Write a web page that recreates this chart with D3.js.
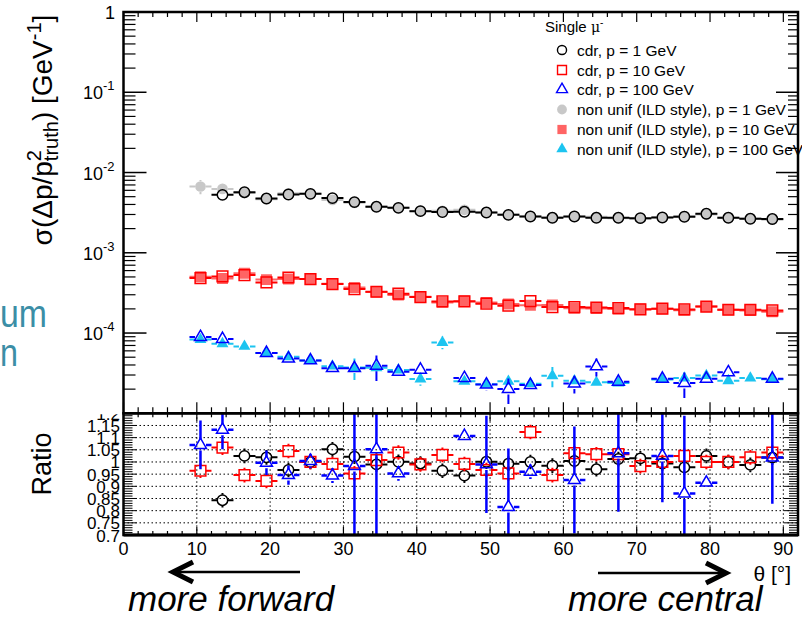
<!DOCTYPE html>
<html><head><meta charset="utf-8">
<script src="https://cdn.jsdelivr.net/npm/d3@7"></script>
<style>
body{margin:0;background:#fff}
svg{display:block}
text{font-family:"Liberation Sans",Arial,Helvetica,sans-serif;fill:#000}
</style>
</head><body>
<svg id="c" width="802" height="621"></svg>
<script>
// ---------------- DATA ----------------
const theta = [10.5,13.5,16.5,19.5,22.5,25.5,28.5,31.5,34.5,37.5,40.5,43.5,46.5,49.5,52.5,55.5,58.5,61.5,64.5,67.5,70.5,73.5,76.5,79.5,82.5,85.5,88.5];
const binHalfWidth = 1.5;

// sigma(dp/p^2) [GeV^-1]
const cdr1  = [null,5.27e-3,5.69e-3,4.74e-3,5.32e-3,5.42e-3,4.80e-3,4.28e-3,3.74e-3,3.63e-3,3.30e-3,3.22e-3,3.24e-3,3.17e-3,2.97e-3,2.83e-3,2.73e-3,2.83e-3,2.73e-3,2.73e-3,2.70e-3,2.75e-3,2.81e-3,3.06e-3,2.73e-3,2.65e-3,2.63e-3];
const nu1   = [6.70e-3,6.25e-3,5.55e-3,4.65e-3,5.50e-3,5.42e-3,4.56e-3,4.19e-3,3.78e-3,3.63e-3,3.32e-3,3.34e-3,3.43e-3,3.17e-3,2.99e-3,2.83e-3,2.77e-3,2.82e-3,2.81e-3,2.70e-3,2.66e-3,2.77e-3,2.87e-3,2.99e-3,2.73e-3,2.68e-3,2.58e-3];
const nu1Err = [0.2,0.02,0.02,0.02,0.02,0.02,0.02,0.02,0.02,0.02,0.02,0.02,0.02,0.02,0.02,0.02,0.02,0.02,0.02,0.02,0.02,0.02,0.02,0.02,0.02,0.02,0.02];

const cdr10 = [4.84e-4,5.07e-4,5.27e-4,4.27e-4,4.92e-4,4.71e-4,4.07e-4,3.53e-4,3.27e-4,3.09e-4,2.81e-4,2.48e-4,2.48e-4,2.32e-4,2.19e-4,2.50e-4,2.11e-4,2.11e-4,2.08e-4,2.05e-4,1.97e-4,2.01e-4,1.97e-4,2.14e-4,1.95e-4,1.95e-4,1.91e-4];
const nu10  = [5.02e-4,4.79e-4,5.57e-4,4.63e-4,4.71e-4,4.71e-4,4.10e-4,3.70e-4,3.24e-4,2.97e-4,2.84e-4,2.41e-4,2.50e-4,2.40e-4,2.30e-4,2.22e-4,2.23e-4,2.04e-4,2.02e-4,1.99e-4,2.00e-4,2.01e-4,1.92e-4,2.14e-4,1.95e-4,1.91e-4,1.84e-4];

const cdr100 = [8.9e-5,8.43e-5,null,5.64e-5,4.80e-5,4.56e-5,3.65e-5,3.65e-5,3.90e-5,3.30e-5,3.49e-5,null,2.75e-5,2.28e-5,2.01e-5,2.25e-5,null,2.35e-5,3.84e-5,2.47e-5,null,2.70e-5,2.39e-5,2.70e-5,3.24e-5,null,2.70e-5];
const cdr100Err = [0.05,0.05,0,0.04,0.04,0.04,0.04,0.05,0.35,0.05,0.05,0,0.06,0.15,0.35,0.06,0,0.25,0.25,0.06,0,0.06,0.35,0.06,0.06,0,0.06];
const nu100  = [8.3e-5,7.37e-5,6.82e-5,5.64e-5,5.07e-5,4.56e-5,3.87e-5,3.71e-5,3.70e-5,3.46e-5,2.68e-5,7.64e-5,2.50e-5,2.30e-5,2.50e-5,2.34e-5,2.94e-5,2.54e-5,2.43e-5,2.38e-5,null,2.63e-5,2.75e-5,2.95e-5,2.55e-5,2.75e-5,2.65e-5];
const nu100Err = [0.05,0.08,0.05,0.04,0.04,0.04,0.04,0.30,0.05,0.05,0.18,0.18,0.05,0.05,0.08,0.05,0.28,0.05,0.05,0.05,0,0.05,0.08,0.05,0.05,0.05,0.05];

// ratio panel
const ratio1   = [null,0.843,1.025,1.019,0.967,1.0,1.052,1.022,0.990,1.001,0.994,0.964,0.944,1.001,0.993,1.0,0.985,1.004,0.970,1.012,1.015,0.994,0.978,1.025,1.0,0.988,1.018];
const ratio10  = [0.964,1.059,0.946,0.922,1.045,1.0,0.992,0.953,1.008,1.039,0.990,1.029,0.992,0.967,0.953,1.123,0.946,1.036,1.032,1.032,0.983,1.0,1.025,1.0,1.0,1.019,1.039];
const ratio100 = [1.070,1.132,null,0.997,0.946,1.004,0.944,0.983,1.052,0.953,null,null,1.107,0.990,0.815,0.960,null,0.926,null,1.036,null,1.025,0.870,0.915,null,null,1.018];
const ratio100Err = [0.10,0.08,0,0.05,0.04,0.03,0.03,0.6,0.6,0.03,0,0,0.012,0.2,0.24,0.03,0,0.22,0,0.24,0,0.19,0.32,0.02,0,0,0.19];
const ratioErr = 0.03;

// ticks / labels
const xTickValues = [0,10,20,30,40,50,60,70,80,90];
const yTopTicks = [1,1e-1,1e-2,1e-3,1e-4];
const yTopExp = [null,"-1","-2","-3","-4"];
const ratioTicks = [0.7,0.75,0.8,0.85,0.9,0.95,1,1.05,1.1,1.15,1.2];
const ratioTickLabels = ["0.7","0.75","0.8","0.85","0.9","0.95","1","1.05","1.1","1.15","1.2"];
const legendLabels = ["cdr, p = 1 GeV","cdr, p = 10 GeV","cdr, p = 100 GeV","non unif (ILD style), p = 1 GeV","non unif (ILD style), p = 10 GeV","non unif (ILD style), p = 100 GeV"];

// ---------------- LAYOUT ----------------
const L = 123.5, R = 798, T = 12, M = 413.3, B = 535;
const x = d3.scaleLinear().domain([0,92]).range([L,R]);
const yT = d3.scaleLog().domain([1e-5,1]).range([M,T]);
const yR = d3.scaleLinear().domain([0.7,1.2]).range([B,M]);

const C = {black:"#000000", grey:"#c8c8c8", red:"#ff0000", salmon:"#ff6464", blue:"#0000ff", cyan:"#1cc4f0", teal:"#3b8ea6"};

const svg = d3.select("#c");
const defs = svg.append("defs");
defs.append("clipPath").attr("id","clipTop").append("rect").attr("x",L).attr("y",T).attr("width",R-L).attr("height",M-T);
defs.append("clipPath").attr("id","clipRat").append("rect").attr("x",L).attr("y",M).attr("width",R-L).attr("height",B-M);
defs.append("clipPath").attr("id","clipRatLab").append("rect").attr("x",0).attr("y",M+1).attr("width",L).attr("height",200);

const gTop = svg.append("g").attr("clip-path","url(#clipTop)");
const gRat = svg.append("g").attr("clip-path","url(#clipRat)");

// ratio grid
const gGrid = gRat.append("g").attr("stroke","#000").attr("stroke-width",1).attr("stroke-dasharray","1.5,2.5");
gGrid.selectAll("line.h").data(ratioTicks.filter(v=>v>0.71&&v<1.19)).join("line")
  .attr("x1",L).attr("x2",R).attr("y1",d=>yR(d)).attr("y2",d=>yR(d));
gGrid.selectAll("line.v").data(xTickValues.filter(v=>v>0)).join("line")
  .attr("x1",d=>x(d)).attr("x2",d=>x(d)).attr("y1",M).attr("y2",B);

// generic series drawing
function series(g, ys, vals, errs, color, lw, type, size, filled, gap){
  const pts = [];
  vals.forEach((v,i)=>{ if(v!=null){ pts.push({t:theta[i], v, e:(typeof errs==="number"?errs:errs[i])}); } });
  const p = d3.path();
  pts.forEach(d=>{
    const cx = x(d.t), cy = ys(d.v);
    const x0 = x(d.t-binHalfWidth), x1 = x(d.t+binHalfWidth);
    if(cx-gap > x0){ p.moveTo(x0,cy); p.lineTo(cx-gap,cy); }
    if(x1 > cx+gap){ p.moveTo(cx+gap,cy); p.lineTo(x1,cy); }
    const isLog = (ys===yT);
    const hi = isLog ? d.v*(1+d.e) : d.v+d.e;
    const lo = isLog ? Math.max(d.v*(1-d.e),1e-9) : d.v-d.e;
    const yh = ys(hi), yl = ys(lo);
    if(yh < cy-gap){ p.moveTo(cx,yh); p.lineTo(cx,cy-gap); }
    if(yl > cy+gap){ p.moveTo(cx,cy+gap); p.lineTo(cx,yl); }
  });
  g.append("path").attr("d",p.toString()).attr("fill","none").attr("stroke",color).attr("stroke-width",lw);
  const sym = d3.symbol().type(type).size(size);
  g.selectAll(null).data(pts).join("path")
    .attr("transform",d=>`translate(${x(d.t)},${ys(d.v)})`)
    .attr("d",sym())
    .attr("fill",filled?color:"none")
    .attr("stroke",filled?"none":color)
    .attr("stroke-width",filled?0:1.5);
}

// top panel: non-uniform first, then cdr (hollow)
series(gTop, yT, nu1, nu1Err, C.grey, 2, d3.symbolCircle, 90, true, 5.5);
series(gTop, yT, nu10, 0.02, C.salmon, 2, d3.symbolSquare, 120, true, 5.5);
series(gTop, yT, nu100, nu100Err, C.cyan, 2, d3.symbolTriangle, 62, true, 5.5);
series(gTop, yT, cdr1, 0.02, C.black, 2, d3.symbolCircle, 85, false, 5.5);
series(gTop, yT, cdr10, 0.02, C.red, 2, d3.symbolSquare, 115, false, 5.5);
series(gTop, yT, cdr100, cdr100Err, C.blue, 2, d3.symbolTriangle, 62, false, 5.5);

// ratio panel
series(gRat, yR, ratio1, ratioErr, C.black, 2, d3.symbolCircle, 85, false, 5.5);
series(gRat, yR, ratio10, ratioErr, C.red, 2, d3.symbolSquare, 115, false, 5.5);
series(gRat, yR, ratio100, ratio100Err, C.blue, 2.5, d3.symbolTriangle, 62, false, 5.5);

// ---------------- AXES / FRAMES ----------------
const gAx = svg.append("g").attr("stroke","#000").attr("fill","none");
function tick(x1,y1,x2,y2,w){ gAx.append("line").attr("x1",x1).attr("y1",y1).attr("x2",x2).attr("y2",y2).attr("stroke-width",w||1.2); }

// top panel log ticks
const logMinor = [];
for(let e=-5;e<0;e++){ for(let k=2;k<=9;k++){ logMinor.push(k*Math.pow(10,e)); } }
yTopTicks.concat([1e-5]).forEach(v=>{ const yy=yT(v); tick(L,yy,L+23,yy,1.5); tick(R,yy,R-22,yy,1.5); });
logMinor.forEach(v=>{ const yy=yT(v); tick(L,yy,L+12,yy,1.2); tick(R,yy,R-10,yy,1.2); });
// x ticks
const xMinor = d3.range(0,93,2);
xMinor.forEach(v=>{
  const xx = x(v), major = (v%10===0);
  tick(xx,T,xx,T+(major?10:5),1.2);
  tick(xx,M,xx,M-(major?11:6),1.2);
  tick(xx,M,xx,M+(major?8:4),1.2);
  tick(xx,B,xx,B-(major?8:4),1.2);
});
// ratio y ticks
d3.range(70,121,1).forEach(k=>{
  const v = k/100, yy = yR(v), major = (k%5===0);
  tick(L,yy,L+(major?13:9),yy,1);
  tick(R,yy,R-(major?13:9),yy,1);
});
// frames
svg.append("rect").attr("x",L).attr("y",T).attr("width",R-L).attr("height",M-T).attr("fill","none").attr("stroke","#000").attr("stroke-width",2.5);
svg.append("rect").attr("x",L).attr("y",M).attr("width",R-L).attr("height",B-M).attr("fill","none").attr("stroke","#000").attr("stroke-width",2.5);
svg.append("line").attr("x1",L).attr("x2",R).attr("y1",B).attr("y2",B).attr("stroke","#000").attr("stroke-width",3);

// top y labels
yTopTicks.forEach((v,i)=>{
  const yy = yT(v);
  if(yTopExp[i]===null){
    svg.append("text").attr("x",115).attr("y",yy+7).attr("text-anchor","end").attr("font-size",18).text("1");
  } else {
    svg.append("text").attr("x",103).attr("y",yy+7).attr("text-anchor","end").attr("font-size",18).text("10");
    svg.append("text").attr("x",103).attr("y",yy-2).attr("font-size",13).text(yTopExp[i]);
  }
});
// ratio y labels
const gRL = svg.append("g").attr("clip-path","url(#clipRatLab)");
ratioTicks.forEach((v,i)=>{
  gRL.append("text").attr("x",120).attr("y",yR(v)+6.5).attr("text-anchor","end").attr("font-size",17).text(ratioTickLabels[i]);
});
// x labels
xTickValues.forEach(v=>{
  svg.append("text").attr("x",x(v)).attr("y",555).attr("text-anchor","middle").attr("font-size",18).text(String(v));
});

// axis titles
const yt = svg.append("text").attr("transform","translate(52,130) rotate(-90)").attr("text-anchor","middle").attr("font-size",28);
yt.append("tspan").text("σ(Δp/p");
yt.append("tspan").attr("font-size",20).attr("dy",-11).text("2");
yt.append("tspan").attr("font-size",20).attr("dx",-11.1).attr("dy",17).text("truth");
yt.append("tspan").attr("dy",-6).text(") [GeV");
yt.append("tspan").attr("font-size",20).attr("dy",-11).text("-1");
yt.append("tspan").attr("dy",11).text("]");

svg.append("text").attr("transform","translate(51,464) rotate(-90)").attr("text-anchor","middle").attr("font-size",27).text("Ratio");
svg.append("text").attr("x",791).attr("y",581).attr("text-anchor","end").attr("font-size",21).text("θ [°]");

// ---------------- LEGEND ----------------
svg.append("text").attr("x",545).attr("y",32).attr("font-size",15).html('Single <tspan font-family="DejaVu Serif" font-size="14">μ</tspan><tspan font-size="10" dy="-6">-</tspan>');
const legStyle = [
  {type:d3.symbolCircle,size:65,color:C.black,filled:false},
  {type:d3.symbolSquare,size:80,color:C.red,filled:false},
  {type:d3.symbolTriangle,size:52,color:C.blue,filled:false},
  {type:d3.symbolCircle,size:75,color:C.grey,filled:true},
  {type:d3.symbolSquare,size:85,color:C.salmon,filled:true},
  {type:d3.symbolTriangle,size:56,color:C.cyan,filled:true}
];
const legY = [50,70,89.5,109.5,129.5,149];
legendLabels.forEach((lab,i)=>{
  const s = legStyle[i];
  svg.append("path").attr("transform",`translate(562,${legY[i]})`).attr("d",d3.symbol().type(s.type).size(s.size)())
    .attr("fill",s.filled?s.color:"none").attr("stroke",s.filled?"none":s.color).attr("stroke-width",1.4);
  svg.append("text").attr("x",577).attr("y",legY[i]+5.5).attr("font-size",15.5).text(lab);
});

// ---------------- SLIDE ANNOTATIONS ----------------
const slideFont = 'Lato, "Open Sans", sans-serif';
svg.append("text").attr("x",0).attr("y",327).attr("font-size",39).attr("font-family",slideFont)
  .attr("textLength",47).attr("lengthAdjust","spacingAndGlyphs").style("fill",C.teal).text("um");
svg.append("text").attr("x",0).attr("y",366).attr("font-size",39).attr("font-family",slideFont)
  .attr("textLength",18).attr("lengthAdjust","spacingAndGlyphs").style("fill",C.teal).text("n");

const gArr = svg.append("g").attr("stroke","#000").attr("fill","none");
gArr.append("line").attr("x1",300).attr("y1",572).attr("x2",174).attr("y2",572).attr("stroke-width",2.5);
gArr.append("path").attr("d","M193,562 L173,572 L193,582").attr("stroke-width",5).attr("stroke-linejoin","miter");
gArr.append("line").attr("x1",598).attr("y1",573).attr("x2",724).attr("y2",573).attr("stroke-width",2.5);
gArr.append("path").attr("d","M706,563 L726,573 L706,583").attr("stroke-width",5).attr("stroke-linejoin","miter");

svg.append("text").attr("x",128).attr("y",611).attr("font-size",35).attr("font-style","italic").attr("font-family",slideFont).text("more forward");
svg.append("text").attr("x",568).attr("y",611).attr("font-size",35).attr("font-style","italic").attr("font-family",slideFont).text("more central");
</script>
</body></html>
